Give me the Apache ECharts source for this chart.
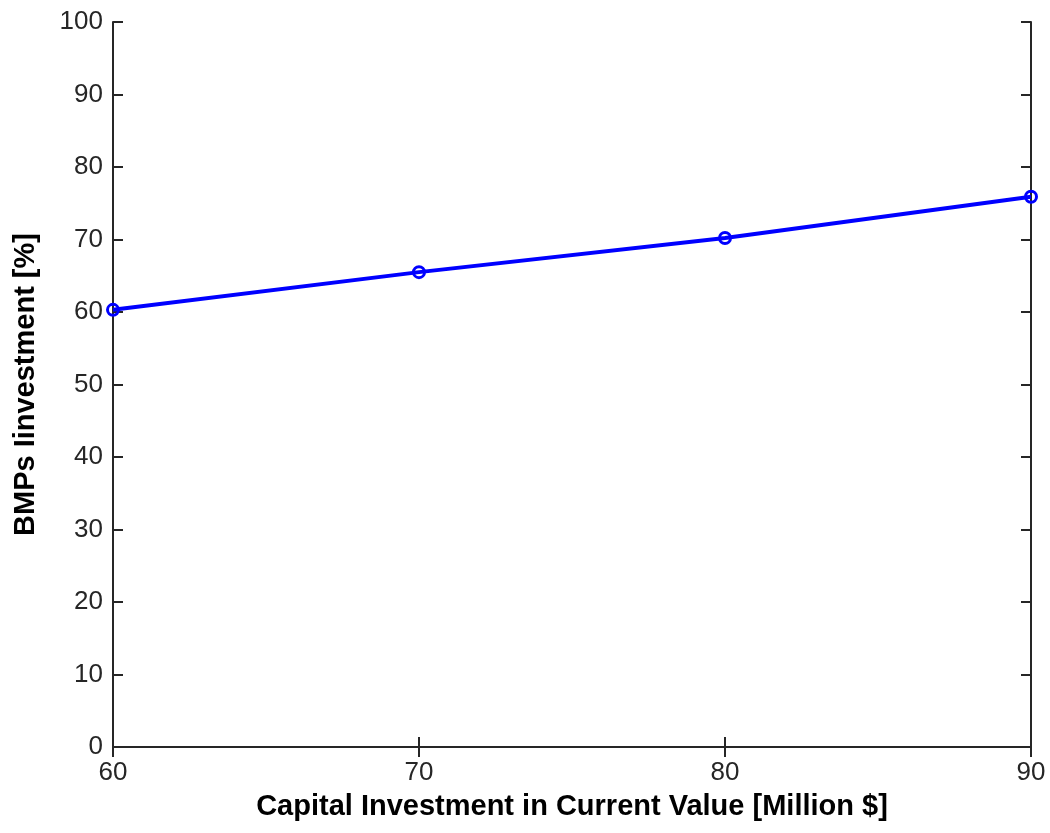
<!DOCTYPE html>
<html>
<head>
<meta charset="utf-8">
<script src="https://cdn.jsdelivr.net/npm/echarts@6/dist/echarts.min.js"></script>
<style>
html, body { margin: 0; padding: 0; background: #fff; }
#chart { width: 1050px; height: 833px; }
</style>
</head>
<body>
<div id="chart"></div>
<script>
// capital investment (million $) vs. BMPs investment share
var capitalValues = [60, 70, 80, 90];
var bmpsShare = [60.3, 65.5, 70.2, 75.9];

var seriesData = [];
for (var i = 0; i < capitalValues.length; i++) {
	seriesData.push([capitalValues[i], bmpsShare[i]]);
}

var tickLabel = {
	fontFamily: 'Liberation Sans, Arial, sans-serif',
	fontSize: 26,
	color: '#262626'
};
var nameStyle = {
	fontFamily: 'Liberation Sans, Arial, sans-serif',
	fontSize: 29,
	fontWeight: 'bold',
	color: '#000'
};
var lineStyle = { color: '#262626', width: 2 };

var chart = echarts.init(document.getElementById('chart'));
chart.setOption({
	animation: false,
	backgroundColor: '#fff',
	grid: { left: 113, right: 19, top: 22, bottom: 86 },
	xAxis: [
		{
			type: 'value', position: 'bottom', min: 60, max: 90, interval: 10,
			name: 'Capital Investment in Current Value [Million $]',
			nameLocation: 'middle', nameGap: 45, nameTextStyle: nameStyle,
			axisLine: { lineStyle: lineStyle },
			axisTick: { inside: true, length: 10, lineStyle: lineStyle },
			axisLabel: Object.assign({ margin: 13 }, tickLabel),
			splitLine: { show: false }
		},
		{
			type: 'value', position: 'top', min: 60, max: 90, interval: 10,
			axisLine: { lineStyle: lineStyle },
			axisTick: { inside: true, length: 10, lineStyle: lineStyle },
			axisLabel: { show: false },
			splitLine: { show: false }
		}
	],
	yAxis: [
		{
			type: 'value', position: 'left', min: 0, max: 100, interval: 10,
			name: 'BMPs Iinvestment [%]',
			nameLocation: 'middle', nameGap: 73, nameTextStyle: nameStyle,
			axisLine: { show: true, lineStyle: lineStyle },
			axisTick: { show: true, inside: true, length: 10, lineStyle: lineStyle },
			axisLabel: Object.assign({ margin: 10 }, tickLabel),
			splitLine: { show: false }
		},
		{
			type: 'value', position: 'right', min: 0, max: 100, interval: 10,
			axisLine: { show: true, lineStyle: lineStyle },
			axisTick: { show: true, inside: true, length: 10, lineStyle: lineStyle },
			axisLabel: { show: false },
			splitLine: { show: false }
		}
	],
	series: [
		{
			type: 'line',
			xAxisIndex: 0,
			yAxisIndex: 0,
			data: seriesData,
			symbol: 'circle',
			symbolSize: 11,
			// hollow marker, the line shows through like the original
			itemStyle: { color: 'rgba(0,0,0,0)', borderColor: '#0000ff', borderWidth: 3 },
			lineStyle: { color: '#0000ff', width: 4 },
			z: 3
		}
	]
});
</script>
</body>
</html>
